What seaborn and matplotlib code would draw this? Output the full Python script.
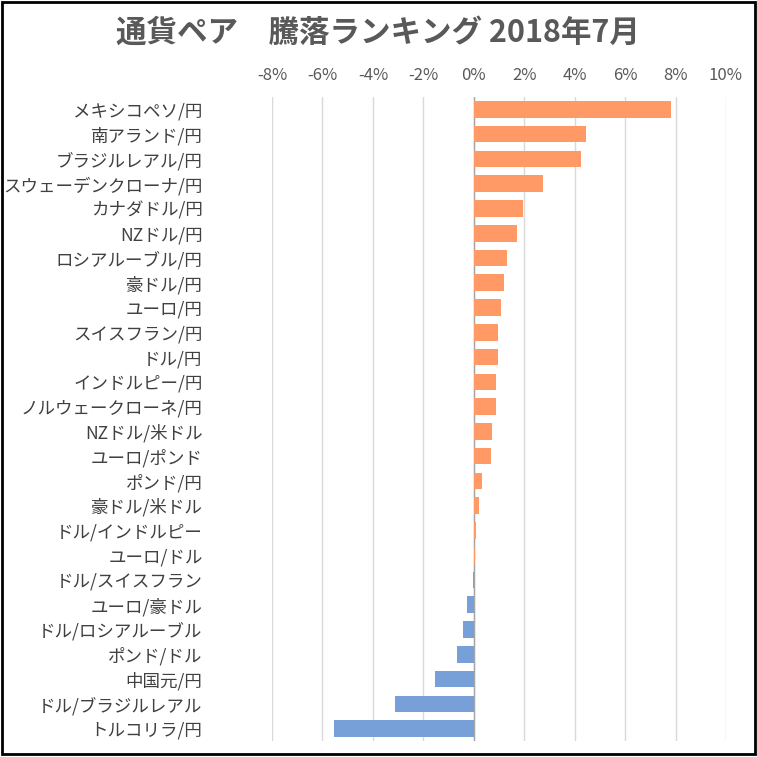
import matplotlib
matplotlib.use("Agg")
import matplotlib.pyplot as plt
import seaborn as sns
import pandas as pd
from matplotlib.patches import Rectangle
from matplotlib.ticker import FuncFormatter

pairs = ["メキシコペソ/円", "南アランド/円", "ブラジルレアル/円", "スウェーデンクローナ/円",
         "カナダドル/円", "NZドル/円", "ロシアルーブル/円", "豪ドル/円", "ユーロ/円",
         "スイスフラン/円", "ドル/円", "インドルピー/円", "ノルウェークローネ/円",
         "NZドル/米ドル", "ユーロ/ポンド", "ポンド/円", "豪ドル/米ドル", "ドル/インドルピー",
         "ユーロ/ドル", "ドル/スイスフラン", "ユーロ/豪ドル", "ドル/ロシアルーブル",
         "ポンド/ドル", "中国元/円", "ドル/ブラジルレアル", "トルコリラ/円"]
changes = [7.80, 4.46, 4.26, 2.75, 1.96, 1.72, 1.32, 1.20, 1.09, 0.97, 0.97, 0.89, 0.89,
           0.73, 0.69, 0.33, 0.21, 0.10, 0.05, -0.05, -0.25, -0.41, -0.65, -1.52, -3.11, -5.53]
xticks = [-8, -6, -4, -2, 0, 2, 4, 6, 8, 10]

df = pd.DataFrame({"pair": pairs, "change": changes})
pos_color = "#FF9966"
neg_color = "#78A0D8"
palette = {p: (pos_color if v >= 0 else neg_color) for p, v in zip(pairs, changes)}

sns.set_style("white")
plt.rcParams['font.family'] = ['Noto Sans CJK JP', 'DejaVu Sans']

fig = plt.figure(figsize=(7.57, 7.57), dpi=100)
ax = fig.add_axes([272/757, 1-741/757, (726-272)/757, (741-97)/757])

sns.barplot(data=df, x="change", y="pair", hue="pair", palette=palette,
            legend=False, orient="h", width=0.67, ax=ax, saturation=1, linewidth=0)

ax.set_xlim(-8, 10)
ax.set_ylim(25.5, -0.5)
ax.set_xticks(xticks)
ax.xaxis.set_major_formatter(FuncFormatter(lambda v, p: f"{v:.0f}%"))
ax.xaxis.tick_top()
ax.tick_params(axis="x", length=0, pad=9, labelsize=12, labelcolor="#595959")
ax.tick_params(axis="y", length=0, pad=50, labelsize=12.6, labelcolor="#404040")
ax.set_xlabel("")
ax.set_ylabel("")
for s in ax.spines.values():
    s.set_visible(False)
ax.grid(axis="x", color="#d9d9d9", linewidth=1)
ax.set_axisbelow(True)
ax.axvline(0, color="#a6a6a6", linewidth=1, zorder=0.9)

fig.text(378/757, 1-33/757, "通貨ペア　騰落ランキング 2018年7月", ha="center", va="center",
         fontsize=22, fontweight="bold", color="#595959")

fig.patches.append(Rectangle((0.002, 0.004), 0.995, 0.994, transform=fig.transFigure,
                             fill=False, edgecolor="black", linewidth=2))

fig.savefig("out.png", dpi=100, facecolor="white")
